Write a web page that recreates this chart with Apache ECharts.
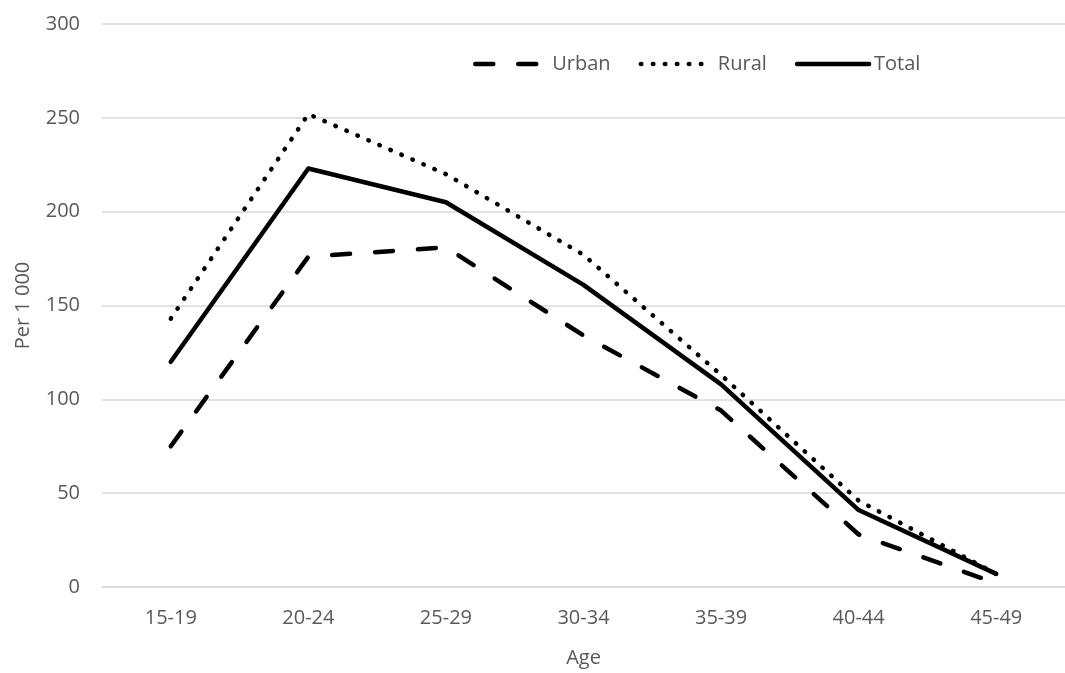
<!DOCTYPE html>
<html>
<head>
<meta charset="utf-8">
<script src="https://cdn.jsdelivr.net/npm/echarts@6/dist/echarts.min.js"></script>
<style>html,body{margin:0;padding:0;background:#fff}#c{width:1065px;height:673px}</style>
</head>
<body>
<div id="c"></div>
<script>
var categories = ['15-19','20-24','25-29','30-34','35-39','40-44','45-49'];
var urban = [75, 176, 181, 134, 94, 28, 2];
var rural = [143, 252, 220, 177, 113, 46, 7];
var total = [120, 223, 205, 161, 108, 41, 7];
var yTicks = {min: 0, max: 300, interval: 50};

var FONT = 'Open Sans';
var TXT = '#595959';
var FS = 20;
var dashUrban = [18, 25];
var dotRural = [0.5, 11.5];
var chart = echarts.init(document.getElementById('c'), null, {renderer: 'canvas'});
chart.setOption({
  animation: false,
  backgroundColor: '#fff',
  textStyle: {fontFamily: FONT},
  grid: {left: 102, width: 980, top: 24, bottom: 83, containLabel: false},
  legend: {
    left: 468, top: 49,
    itemWidth: 72, itemHeight: 14, itemGap: 28,
    itemStyle: {color: 'rgba(0,0,0,0)', borderColor: 'rgba(0,0,0,0)', borderWidth: 0},
    textStyle: {fontFamily: FONT, fontSize: FS, color: TXT},
    data: [
      {name: 'Urban', lineStyle: {width: 4.5, type: dashUrban, cap: 'round', color: '#000'}},
      {name: 'Rural', lineStyle: {width: 4.5, type: dotRural, cap: 'round', color: '#000'}},
      {name: 'Total', lineStyle: {width: 4.5, type: 'solid', cap: 'round', color: '#000'}}
    ]
  },
  xAxis: {
    type: 'category', data: categories, boundaryGap: true,
    name: 'Age', nameLocation: 'middle', nameGap: 61,
    nameTextStyle: {fontFamily: FONT, fontSize: FS, color: TXT},
    axisLine: {show: true, lineStyle: {color: '#d9d9d9', width: 1.5}},
    axisTick: {show: false},
    axisLabel: {fontFamily: FONT, fontSize: FS, color: TXT, margin: 21}
  },
  yAxis: {
    type: 'value', min: yTicks.min, max: yTicks.max, interval: yTicks.interval,
    name: 'Per 1 000', nameLocation: 'middle', nameGap: 69,
    nameTextStyle: {fontFamily: FONT, fontSize: FS, color: TXT},
    axisLine: {show: false}, axisTick: {show: false},
    axisLabel: {fontFamily: FONT, fontSize: FS, color: TXT, margin: 22},
    splitLine: {lineStyle: {color: '#d9d9d9', width: 1.5}}
  },
  series: [
    {name: 'Urban', type: 'line', data: urban, symbol: 'none',
     lineStyle: {color: '#000', width: 4.5, type: dashUrban, cap: 'round', join: 'round'},
     itemStyle: {color: '#000'}},
    {name: 'Rural', type: 'line', data: rural, symbol: 'none',
     lineStyle: {color: '#000', width: 4.5, type: dotRural, cap: 'round', join: 'round'},
     itemStyle: {color: '#000'}},
    {name: 'Total', type: 'line', data: total, symbol: 'none',
     lineStyle: {color: '#000', width: 4.5, type: 'solid', cap: 'round', join: 'round'},
     itemStyle: {color: '#000'}}
  ]
});
</script>
</body>
</html>
